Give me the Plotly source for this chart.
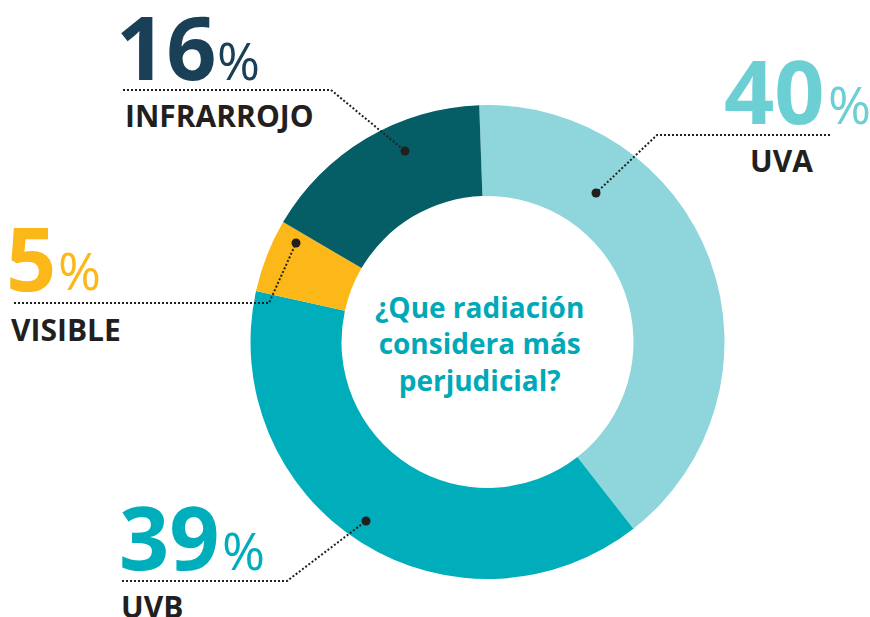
import plotly.graph_objects as go

# ---- data ----
labels = ["UVA", "UVB", "VISIBLE", "INFRARROJO"]
values = [40, 39, 5, 16]
slice_colors = ["#8ed5dc", "#00aebb", "#fcb818", "#055e66"]
number_colors = ["#6ccfd4", "#00aebb", "#fcb818", "#1a4057"]
center_question = "¿Que radiación<br>considera más<br>perjudicial?"

W, H = 870, 617
CX, CY, R = 487.5, 342, 237
HOLE = 0.616
FONT = "Open Sans"
INK = "#231f20"

def px(x):
    return x / W

def py(y):
    return 1 - y / H

fig = go.Figure()
fig.add_trace(go.Pie(
    labels=labels, values=values, sort=False, direction="clockwise",
    rotation=-2, hole=HOLE, textinfo="none", hoverinfo="label+percent",
    marker=dict(colors=slice_colors, line=dict(width=0)),
    domain=dict(x=[px(CX - R), px(CX + R)], y=[py(CY + R), py(CY - R)]),
    showlegend=False,
))

# label layout: (number x, number y-center, % x, % y-center, name x, name y-center,
#                line x-start, line x-end(corner), line y, dot x, dot y)
layout_pos = {
    "INFRARROJO": dict(nx=114, ny=46, sx=215, sy=60, lx=123, ly=115,
                       hx0=123, hx1=331, hy=90, dx=405, dy=151),
    "UVA": dict(nx=722, ny=90, sx=826, sy=103, lx=748, ly=160,
                hx0=830, hx1=657, hy=135, dx=596, dy=193),
    "VISIBLE": dict(nx=4, ny=257, sx=56, sy=269, lx=9, ly=330,
                    hx0=14, hx1=269, hy=303, dx=296, dy=243),
    "UVB": dict(nx=117, ny=536, sx=220, sy=549, lx=119, ly=606,
                hx0=122, hx1=287, hy=581, dx=366, dy=521),
}

annotations = []
shapes = []
for lab, val, col in zip(labels, values, number_colors):
    p = layout_pos[lab]
    annotations.append(dict(
        text=f"<b>{val}</b>", x=px(p["nx"]), y=py(p["ny"]), xref="paper", yref="paper",
        xanchor="left", yanchor="middle", showarrow=False,
        font=dict(family=FONT, size=88, color=col)))
    annotations.append(dict(
        text="%", x=px(p["sx"]), y=py(p["sy"]), xref="paper", yref="paper",
        xanchor="left", yanchor="middle", showarrow=False,
        font=dict(family=FONT, size=52, color=col)))
    annotations.append(dict(
        text=f"<b>{lab}</b>", x=px(p["lx"]), y=py(p["ly"]), xref="paper", yref="paper",
        xanchor="left", yanchor="middle", showarrow=False,
        font=dict(family=FONT, size=30, color=INK)))
    shapes.append(dict(
        type="path", xref="paper", yref="paper",
        path=(f"M {px(p['hx0'])},{py(p['hy'])} L {px(p['hx1'])},{py(p['hy'])} "
              f"L {px(p['dx'])},{py(p['dy'])}"),
        line=dict(color=INK, width=2, dash="2px,2px")))
    shapes.append(dict(
        type="circle", xref="paper", yref="paper", xsizemode="pixel", ysizemode="pixel",
        xanchor=px(p["dx"]), yanchor=py(p["dy"]), x0=-4.5, x1=4.5, y0=-4.5, y1=4.5,
        fillcolor=INK, line=dict(width=0)))

annotations.append(dict(
    text=f"<b>{center_question}</b>", x=px(479), y=py(343), xref="paper", yref="paper",
    xanchor="center", yanchor="middle", showarrow=False, align="center",
    font=dict(family=FONT, size=28, color="#00a9b7")))

fig.update_layout(
    width=W, height=H, margin=dict(l=0, r=0, t=0, b=0),
    paper_bgcolor="white", plot_bgcolor="white",
    annotations=annotations, shapes=shapes,
)

fig.write_html("out.html", include_plotlyjs=True, config={"displayModeBar": False},
               post_script="document.body.style.margin='0';document.body.style.overflow='hidden';")
